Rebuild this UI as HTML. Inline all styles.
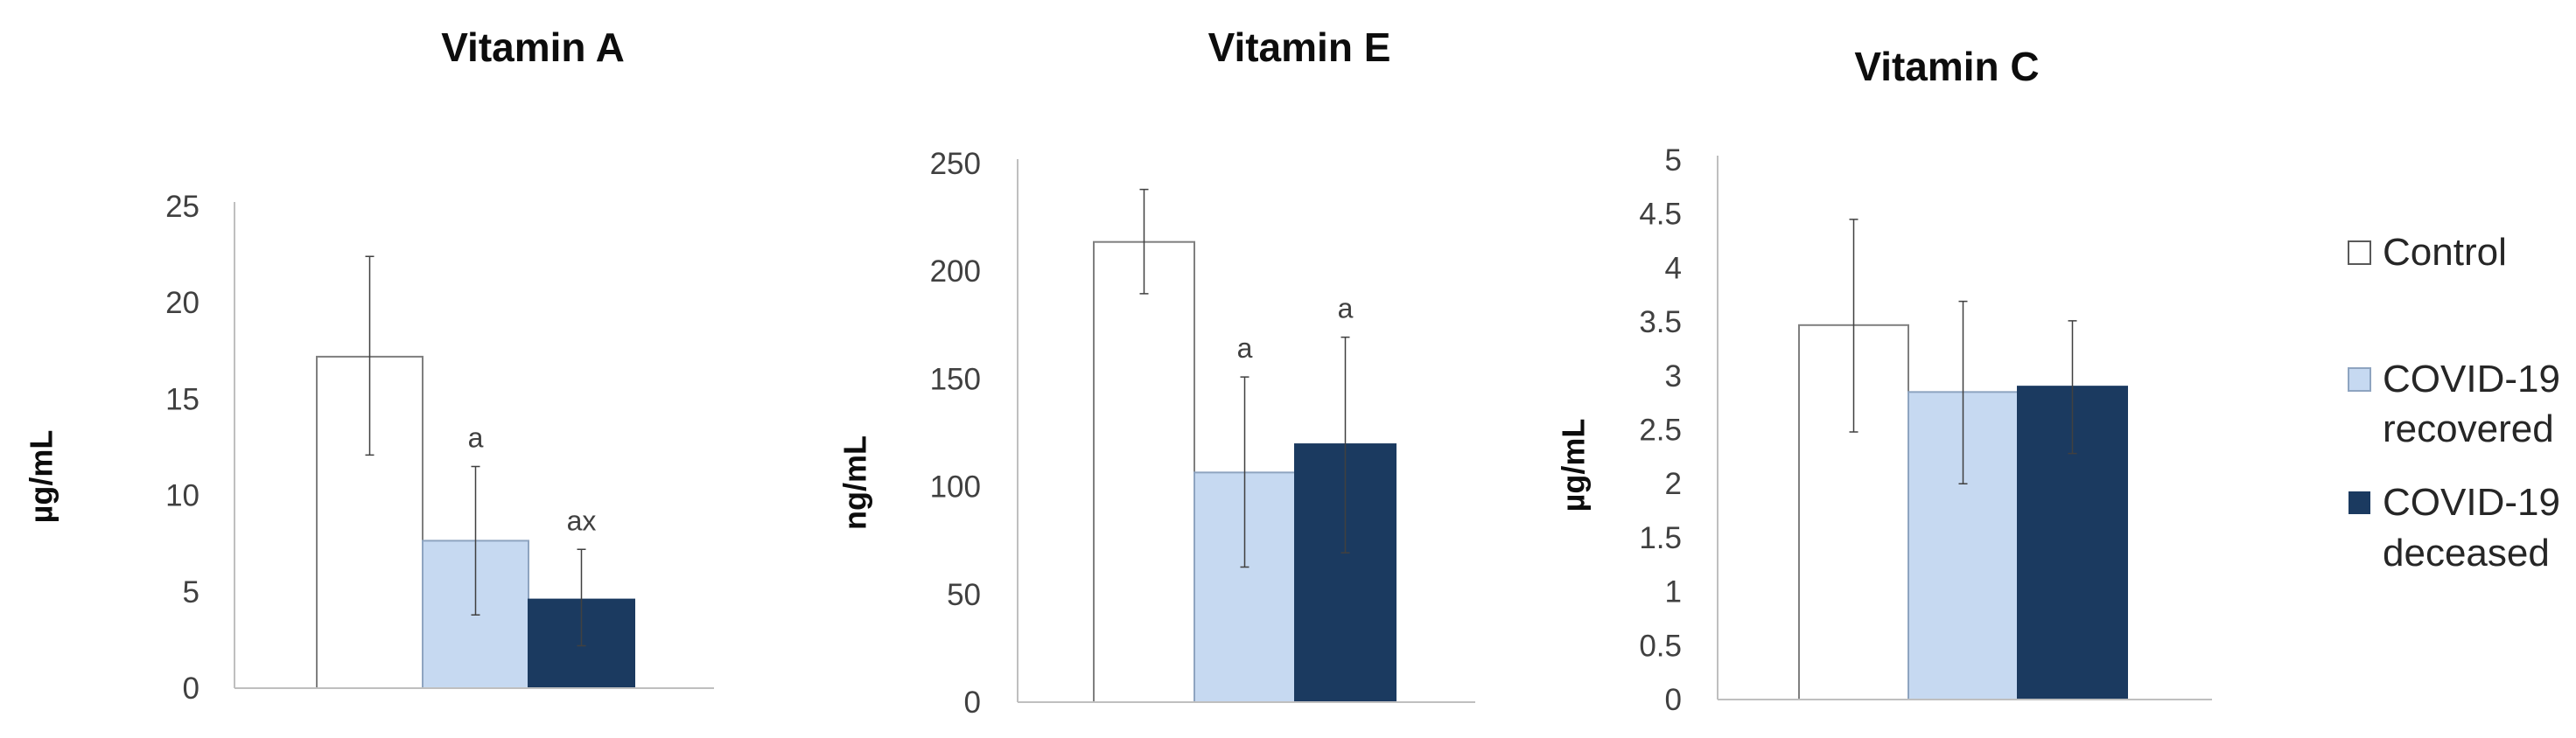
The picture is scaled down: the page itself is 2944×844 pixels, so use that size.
<!DOCTYPE html>
<html><head><meta charset="utf-8"><style>
html,body{margin:0;padding:0;background:#fff;overflow:hidden;}
svg{display:block;font-family:"Liberation Sans",sans-serif;}
</style></head><body>
<svg id="chart" width="2944" height="844" viewBox="0 0 2944 844" xmlns="http://www.w3.org/2000/svg">
<g font-size="44" fill="#262626">
<rect x="2684" y="276" width="25" height="26" fill="#fff" stroke="#595959" stroke-width="2"/>
<text x="2723" y="303">Control</text>
<rect x="2684" y="421" width="25" height="26" fill="#c6d9f1" stroke="#8ea4c0" stroke-width="2"/>
<text x="2723" y="448">COVID-19</text>
<text x="2723" y="505">recovered</text>
<rect x="2684" y="562" width="25" height="26" fill="#1b3a60"/>
<text x="2723" y="589">COVID-19</text>
<text x="2723" y="647">deceased</text>
</g>
</svg>
<script>
const titles = ["Vitamin A", "Vitamin E", "Vitamin C"];
const units = ["µg/mL", "ng/mL", "µg/mL"];
const yMax = [25, 250, 5];
const yStep = [5, 50, 0.5];
const controlVals = [17.2, 213.6, 3.47];
const controlErrHi = [22.4, 238, 4.45];
const controlErrLo = [12.1, 189.6, 2.48];
const recoveredVals = [7.65, 106.6, 2.85];
const recoveredErrHi = [11.5, 150.9, 3.69];
const recoveredErrLo = [3.8, 62.7, 2.0];
const deceasedVals = [4.6, 119.7, 2.9];
const deceasedErrHi = [7.2, 169.4, 3.51];
const deceasedErrLo = [2.2, 69.3, 2.28];
const recoveredLabels = ["a", "a", ""];
const deceasedLabels = ["ax", "a", ""];

const layout = [
 {axisX:268, right:816, top:236, zero:787, tickX:228, barX:362, barW:121, titleX:609, titleY:70, unitX:50, unitY:545},
 {axisX:1163, right:1686, top:187, zero:803, tickX:1121, barX:1250, barW:115, titleX:1485, titleY:70, unitX:980, unitY:552},
 {axisX:1963, right:2528, top:183, zero:800, tickX:1922, barX:2056, barW:125, titleX:2225, titleY:92, unitX:1801, unitY:532}
];
const NS = "http://www.w3.org/2000/svg";
const svg = document.getElementById('chart');
function mk(tag, attrs, parent){const e=document.createElementNS(NS,tag);for(const k in attrs)e.setAttribute(k,attrs[k]);parent.appendChild(e);return e;}
const fills = ["#ffffff", "#c6d9f1", "#1b3a60"];
const strokes = ["#7f7f7f", "#8ea4c0", "#1b3a60"];
const names = ["control", "recovered", "deceased"];
for (let c = 0; c < 3; c++) {
  const L = layout[c];
  const g = mk('g', {}, svg);
  
  
  const y = v => L.zero - v / yMax[c] * (L.zero - L.top);
  const t = mk('text', {x:L.titleX, y:L.titleY, 'text-anchor':'middle', 'font-size':46, 'font-weight':'bold', fill:'#0d0d0d'}, g);
  t.textContent = titles[c];
  
  
  const u = mk('text', {x:L.unitX, y:L.unitY, 'text-anchor':'middle', 'font-size':36, 'font-weight':'bold', fill:'#0d0d0d', transform:`rotate(-90 ${L.unitX} ${L.unitY})`, 'dominant-baseline':'middle'}, g);
  u.textContent = units[c];
  
  
  const n = Math.round(yMax[c] / yStep[c]);
  for (let i = 0; i <= n; i++) {
    const v = i * yStep[c];
    const tl = mk('text', {x:L.tickX, y:y(v) + 12, 'text-anchor':'end', 'font-size':35, fill:'#404040'}, g);
    tl.textContent = String(Math.round(v * 10) / 10);
    
    
  }
  const ax = mk('line', {x1:L.axisX, y1:L.top - 5, x2:L.axisX, y2:L.zero, stroke:'#bfbfbf', 'stroke-width':2}, g);
  
  
  const vals = [controlVals[c], recoveredVals[c], deceasedVals[c]];
  const hi = [controlErrHi[c], recoveredErrHi[c], deceasedErrHi[c]];
  const lo = [controlErrLo[c], recoveredErrLo[c], deceasedErrLo[c]];
  const labs = ["", recoveredLabels[c], deceasedLabels[c]];
  for (let s = 0; s < 3; s++) {
    const x0 = L.barX + s * L.barW;
    const r = mk('rect', {x:x0, y:y(vals[s]), width:L.barW, height:L.zero - y(vals[s]), fill:fills[s], stroke:strokes[s], 'stroke-width':2}, g);
    
    
    const cx = x0 + L.barW / 2;
    const e = mk('path', {d:`M${cx},${y(hi[s])}V${y(lo[s])}M${cx-5},${y(hi[s])}H${cx+5}M${cx-5},${y(lo[s])}H${cx+5}`, stroke:'#404040', 'stroke-width':1.5, fill:'none'}, g);
    
    
    if (labs[s]) {
      const sl = mk('text', {x:cx, y:y(hi[s]) - 22, 'text-anchor':'middle', 'font-size':32, fill:'#404040'}, g);
      sl.textContent = labs[s];
      
      
    }
  }
  const bx = mk('line', {x1:L.axisX, y1:L.zero, x2:L.right, y2:L.zero, stroke:'#bfbfbf', 'stroke-width':2}, g);
  
  
}
</script>
</body></html>
